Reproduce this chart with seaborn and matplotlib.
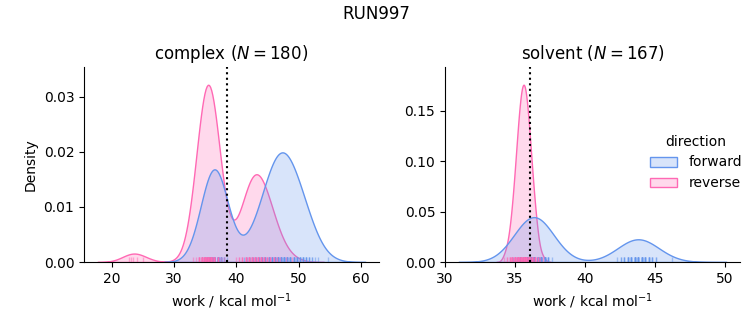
import numpy as np
import pandas as pd
import matplotlib
matplotlib.use("Agg")
import matplotlib.pyplot as plt
import seaborn as sns

# ---- data ----
phases = ["complex", "solvent"]
n_samples = [180, 167]
directions = ["forward", "reverse"]
colors = ["cornflowerblue", "hotpink"]
estimates = [38.5, 36.06]          # dotted vertical line per phase

# complex, forward work values and how many samples sit at each
complex_forward_values = [34.5, 35.0, 35.5, 36.0, 36.5, 37.0, 37.5, 38.0, 38.5,
                          41.2, 41.7, 42.2, 42.7, 43.2, 43.7, 44.2, 44.7, 45.2, 45.7,
                          46.2, 46.7, 47.2, 47.7, 48.2, 48.7, 49.2, 49.7, 50.2, 50.7, 51.2,
                          51.7, 52.2, 52.7, 53.2, 54.7]
complex_forward_counts = [1, 3, 8, 13, 14, 13, 8, 3, 1,
                          1, 1, 1, 2, 2, 3, 4, 5, 6, 7,
                          8, 9, 9, 9, 8, 7, 6, 6, 5, 5, 4,
                          3, 2, 1, 1, 1]

# complex, reverse
complex_reverse_values = [22.8, 23.1, 23.5, 24.0, 25.0,
                          33.0, 33.5, 34.0, 34.5, 35.0, 35.5, 36.0, 36.5, 37.0, 37.5, 38.0,
                          40.0, 40.5, 41.0, 41.5, 42.0, 42.5, 43.0, 43.5, 44.0, 44.5,
                          45.0, 45.5, 46.0, 46.5, 47.0, 48.0, 49.0]
complex_reverse_counts = [1, 1, 1, 1, 1,
                          1, 1, 5, 11, 22, 26, 22, 11, 5, 1, 1,
                          1, 2, 3, 5, 7, 7, 8, 7, 7, 5,
                          4, 4, 4, 2, 1, 1, 1]

# solvent, forward
solvent_forward_values = [34.85, 35.1, 35.35, 35.6, 35.85, 36.1, 36.35, 36.6, 36.85,
                          37.1, 37.35, 37.6,
                          42.3, 42.55, 42.8, 43.05, 43.3, 43.55, 43.8, 44.05,
                          44.3, 44.55, 44.8, 45.05, 46.2]
solvent_forward_counts = [1, 1, 4, 8, 13, 18, 20, 18, 13,
                          8, 4, 1,
                          1, 2, 3, 5, 6, 8, 8, 8,
                          6, 5, 3, 2, 1]

# solvent, reverse
solvent_reverse_values = [34.2, 34.4, 34.6, 34.8, 35.0, 35.2, 35.4, 35.6, 35.8, 36.0,
                          36.2, 36.4, 36.6, 36.8, 37.0]
solvent_reverse_counts = [1, 2, 4, 8, 13, 19, 24, 26, 24, 19,
                          13, 8, 4, 1, 1]

series = [
    ("complex", "forward", complex_forward_values, complex_forward_counts),
    ("complex", "reverse", complex_reverse_values, complex_reverse_counts),
    ("solvent", "forward", solvent_forward_values, solvent_forward_counts),
    ("solvent", "reverse", solvent_reverse_values, solvent_reverse_counts),
]
frames = []
for phase, direction, vals, cnts in series:
    w = np.repeat(np.asarray(vals, dtype=float), cnts)
    frames.append(pd.DataFrame({"phase": phase, "direction": direction, "work": w}))
df = pd.concat(frames, ignore_index=True)

g = sns.displot(
    data=df, x="work", hue="direction", col="phase", kind="kde",
    fill=True, rug=True, hue_order=directions, col_order=phases,
    palette=dict(zip(directions, colors)),
    rug_kws=dict(alpha=0.5),
    facet_kws=dict(sharex=False, sharey=False),
    height=3.25, aspect=1.0,
)

for ax, phase, n, est in zip(g.axes.flat, phases, n_samples, estimates):
    ax.set_title(f"{phase} ($N = {n}$)", fontsize=12)
    ax.axvline(est, color="black", linestyle=":", linewidth=1.5)

g.set_axis_labels("work / kcal mol$^{-1}$", "Density")

fig = g.figure
fig.set_size_inches(7.53, 3.25)
fig.subplots_adjust(left=84 / 753, right=740 / 753, bottom=63 / 325, top=258 / 325,
                    wspace=66 / 295)
fig.suptitle("RUN997", fontsize=12, y=0.985)
sns.move_legend(g, "center left", bbox_to_anchor=(0.846, 0.5), frameon=False)

fig.savefig("out.png", dpi=100)
